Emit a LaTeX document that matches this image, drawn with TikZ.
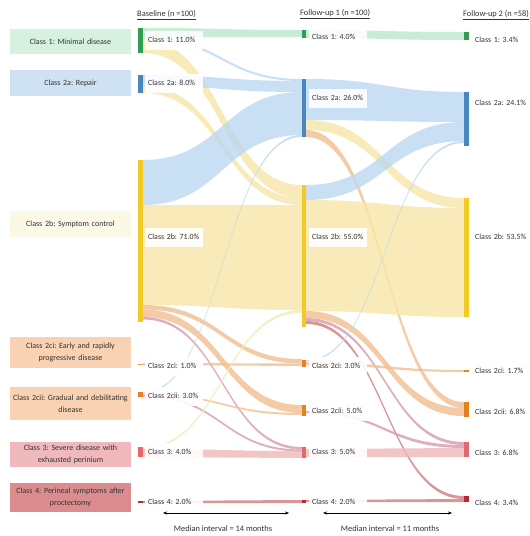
\documentclass[tikz,border=0pt]{standalone}
\usepackage{fontspec}
\setmainfont{Carlito}
\usetikzlibrary{positioning,calc,arrows.meta}
\frenchspacing

\definecolor{txtgray}{HTML}{333333}
\definecolor{boxgreen}{HTML}{D6F1E0}
\definecolor{boxblue}{HTML}{CFE2F3}
\definecolor{boxyellow}{HTML}{FCF8E6}
\definecolor{boxorange}{HTML}{F8D2B3}
\definecolor{boxpink}{HTML}{F0B9BC}
\definecolor{boxred}{HTML}{DA8C8E}
\definecolor{bargreen}{HTML}{2F9E54}
\definecolor{barblue}{HTML}{4A86C0}
\definecolor{baryellow}{HTML}{F2C925}
\definecolor{barorangel}{HTML}{EE9A4D}
\definecolor{barorange}{HTML}{E8801F}
\definecolor{barpink}{HTML}{E26A6A}
\definecolor{barred}{HTML}{B52A2A}
\definecolor{flowgreen}{HTML}{BDE8CC}
\definecolor{flowblue}{HTML}{BCD8F0}
\definecolor{flowyellow}{HTML}{F7E7A8}
\definecolor{flowlime}{HTML}{EEF0B8}
\definecolor{floworange}{HTML}{F2BE92}
\definecolor{flowmauve}{HTML}{D69CAA}
\definecolor{flowpink}{HTML}{F1B8B8}
\definecolor{flowred}{HTML}{D07C7C}

\newcommand{\flowband}[7]{%
  \pgfmathsetmacro{\fbmid}{(#2+#5)/2}%
  \fill[#1, opacity=0.8] (#2,#3) .. controls (\fbmid,#3) and (\fbmid,#6) .. (#5,#6)
    -- (#5,#7) .. controls (\fbmid,#7) and (\fbmid,#4) .. (#2,#4) -- cycle;%
}

\begin{document}
\begin{tikzpicture}[x=1pt, y=-1pt]%
  \tikzstyle{catbox}=[minimum width=121pt, text width=115pt, align=center, inner sep=0pt, font=\fontsize{8}{11.5}\selectfont, text=txtgray];%
  \tikzstyle{pct}=[anchor=west, fill=white, fill opacity=0.9, text opacity=1, text width=52pt, inner xsep=3pt, minimum height=19pt, font=\fontsize{7.9}{9}\selectfont, text=txtgray];%
  \tikzstyle{head}=[anchor=west, inner sep=0pt, font=\fontsize{8.4}{10}\selectfont, text=txtgray];%
  \tikzstyle{note}=[inner sep=0pt, font=\fontsize{8.4}{10}\selectfont, text=txtgray];%
  \fill[white] (0,0) rectangle (530,536);
  \useasboundingbox (0,0) rectangle (530,536);

  \node[catbox, fill=boxgreen, minimum height=25pt] (c1) at (70.5,41.5) {Class 1: Minimal disease};
  \node[catbox, fill=boxblue, minimum height=26pt] (c2a) at (70.5,83) {Class 2a: Repair};
  \node[catbox, fill=boxyellow, minimum height=26pt] (c2b) at (70.5,224) {Class 2b: Symptom  control};
  \node[catbox, fill=boxorange, minimum height=31pt] (c2ci) at (70.5,352.5) {Class 2ci: Early and rapidly\\progressive disease};
  \node[catbox, fill=boxorange, minimum height=33pt] (c2cii) at (70.5,403.5) {Class 2cii: Gradual and debilitating\\disease};
  \node[catbox, fill=boxpink, minimum height=25pt] (c3) at (70.5,454.5) {Class 3: Severe disease with\\exhausted perinium};
  \node[catbox, fill=boxred, minimum height=29pt] (c4) at (70.5,497.5) {Class 4: Perineal symptoms  after\\proctectomy};

  \node[head] (h0) at (137,15) {\underline{Baseline (n =100)}};
  \node[head] (h1) at (300,14) {\underline{Follow-up 1 (n =100)}};
  \node[head] (h2) at (463,15) {\underline{Follow-up 2 (n =58)}};

  \flowband{flowgreen}{143}{28}{37}{302}{30}{37}
  \flowband{flowblue}{143}{37}{39.5}{302}{79}{81}
  \flowband{flowyellow}{143}{40}{53}{302}{185}{198}
  \flowband{flowblue}{143}{75}{86}{302}{81}{92}
  \flowband{flowyellow}{143}{86}{93}{302}{198}{205}
  \flowband{flowblue}{143}{160}{205}{302}{92}{135}
  \flowband{flowyellow}{143}{205}{305}{302}{205}{310}
  \flowband{floworange}{143}{305}{309.5}{302}{359}{363.5}
  \flowband{floworange}{143}{309.5}{317}{302}{405}{413}
  \flowband{flowmauve}{143}{317}{319.5}{302}{447}{449.5}
  \flowband{floworange}{143}{363}{365}{302}{363.5}{366}
  \flowband{flowblue}{143}{392}{393.5}{302}{135}{137}
  \flowband{floworange}{143}{393.5}{395}{302}{413}{415}
  \flowband{flowmauve}{143}{395}{397}{302}{449.5}{451.5}
  \flowband{flowlime}{143}{447}{449}{302}{310}{313}
  \flowband{flowpink}{143}{449}{457}{302}{451}{458}
  \flowband{flowred}{143}{501}{503}{302}{500}{503}

  \flowband{flowgreen}{306}{30}{38}{464}{32}{40}
  \flowband{flowblue}{306}{79}{120}{464}{92}{122}
  \flowband{flowyellow}{306}{120}{130}{464}{198}{208}
  \flowband{floworange}{306}{130}{137}{464}{402}{408}
  \flowband{flowblue}{306}{185}{200}{464}{122}{141}
  \flowband{flowyellow}{306}{200}{311}{464}{208}{317}
  \flowband{floworange}{306}{311}{318}{464}{408}{416}
  \flowband{flowmauve}{306}{318}{321}{464}{442}{445}
  \flowband{flowred}{306}{321}{324}{464}{496}{499}
  \flowband{flowblue}{306}{360}{361.5}{464}{141}{143}
  \flowband{floworange}{306}{362}{365}{464}{370}{372}
  \flowband{flowmauve}{306}{411}{413}{464}{445}{448}
  \flowband{flowpink}{306}{449}{457}{464}{448}{457}
  \flowband{flowred}{306}{500}{502}{464}{499}{502}

  \fill[bargreen] (138,28) rectangle (143,53);
  \fill[barblue] (138,75) rectangle (143,93);
  \fill[baryellow] (138,160) rectangle (143,322);
  \fill[barorangel] (138,363.5) rectangle (143,365);
  \fill[barorange] (138,392) rectangle (143,397);
  \fill[barpink] (138,447) rectangle (143,457);
  \fill[barred] (138,501) rectangle (143,503);

  \fill[bargreen] (302,30) rectangle (306,38);
  \fill[barblue] (302,79) rectangle (306,137);
  \fill[baryellow] (302,185) rectangle (306,327);
  \fill[barorange] (302,360) rectangle (306,367);
  \fill[barorange] (302,405) rectangle (306,416);
  \fill[barpink] (302,447) rectangle (306,458);
  \fill[barred] (302,500) rectangle (306,503);

  \fill[bargreen] (464,32) rectangle (469,40);
  \fill[barblue] (464,92) rectangle (469,146);
  \fill[baryellow] (464,198) rectangle (469,317);
  \fill[barorange] (464,370) rectangle (469,372);
  \fill[barorange] (464,402) rectangle (469,417);
  \fill[barpink] (464,442) rectangle (469,457);
  \fill[barred] (464,496) rectangle (469,502);

  \node[pct] (b1) at (145,40) {Class 1: 11.0\%};
  \node[pct] (b2a) at (145,83) {Class 2a: 8.0\%};
  \node[pct] (b2b) at (145,237) {Class 2b: 71.0\%};
  \node[pct] (b2ci) at (145,366) {Class 2ci: 1.0\%};
  \node[pct] (b2cii) at (145,396) {Class 2cii: 3.0\%};
  \node[pct] (b3) at (145,452) {Class 3: 4.0\%};
  \node[pct] (b4) at (145,502) {Class 4: 2.0\%};

  \node[pct] (f1) at (309,37) {Class 1: 4.0\%};
  \node[pct] (f2a) at (309,98) {Class 2a: 26.0\%};
  \node[pct] (f2b) at (309,237) {Class 2b: 55.0\%};
  \node[pct] (f2ci) at (309,366) {Class 2ci: 3.0\%};
  \node[pct] (f2cii) at (309,411) {Class 2cii: 5.0\%};
  \node[pct] (f3) at (309,452) {Class 3: 5.0\%};
  \node[pct] (f4) at (309,502) {Class 4: 2.0\%};

  \node[pct] (g1) at (472,40) {Class 1: 3.4\%};
  \node[pct] (g2a) at (472,103) {Class 2a: 24.1\%};
  \node[pct] (g2b) at (472,237) {Class 2b: 53.5\%};
  \node[pct] (g2ci) at (472,371) {Class 2ci: 1.7\%};
  \node[pct] (g2cii) at (472,412) {Class 2cii: 6.8\%};
  \node[pct] (g3) at (472,453) {Class 3: 6.8\%};
  \node[pct] (g4) at (472,503) {Class 4: 3.4\%};

  \coordinate (m1a) at (163,513);
  \coordinate (m1b) at (289,513);
  \coordinate (m2a) at (323,513);
  \coordinate (m2b) at (452,513);
  \draw[{Stealth[length=4pt]}-{Stealth[length=4pt]}, thin] (m1a) -- (m1b);
  \draw[{Stealth[length=4pt]}-{Stealth[length=4pt]}, thin] (m2a) -- (m2b);
  \node[note] (m1) at (223,529) {Median interval = 14 months};
  \node[note] (m2) at (390,529) {Median interval = 11 months};
\end{tikzpicture}
\end{document}
